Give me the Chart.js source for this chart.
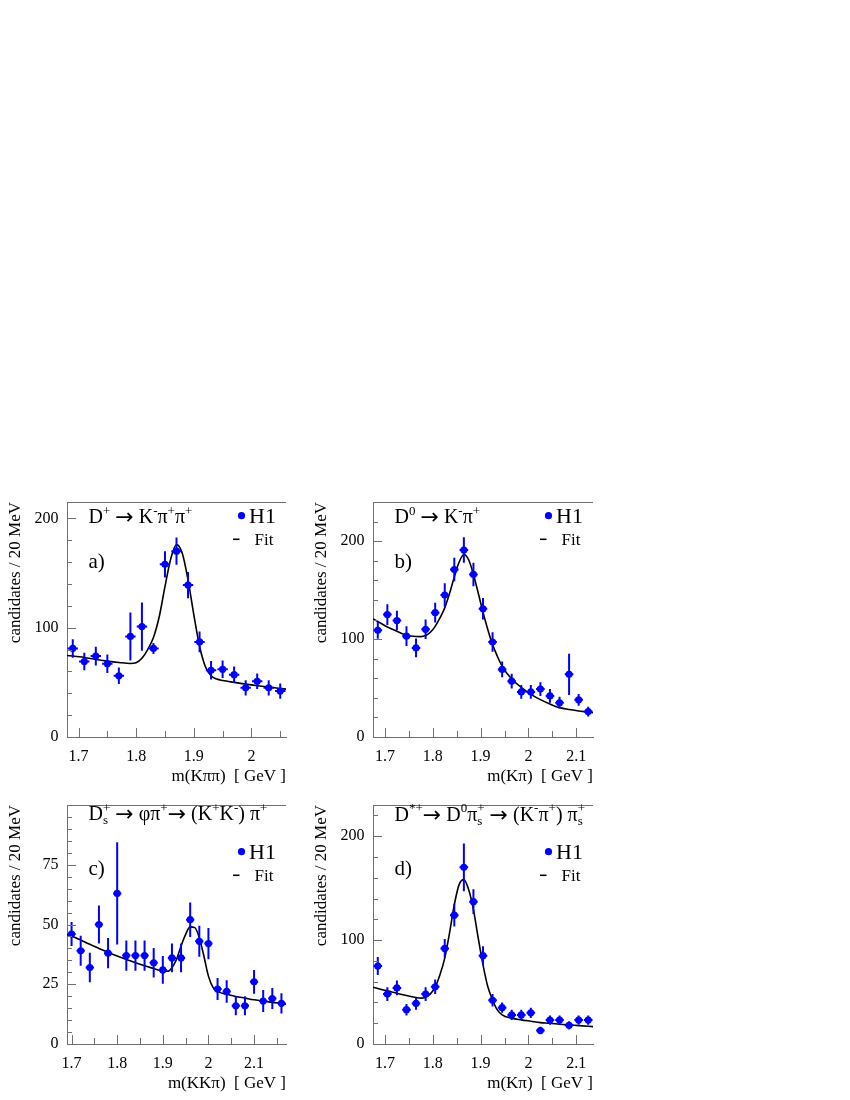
<!DOCTYPE html>
<html>
<head>
<meta charset="utf-8">
<script src="https://cdn.jsdelivr.net/npm/chart.js@4.4.1/dist/chart.umd.min.js"></script>
<style>
  body { margin: 0; background: #fff; }
  #page { position: relative; width: 850px; height: 1100px; }
  canvas { position: absolute; }
</style>
</head>
<body>
<div id="page">
  <canvas id="pa" width="300" height="300" style="left:0;top:490px"></canvas>
  <canvas id="pb" width="300" height="300" style="left:300px;top:490px"></canvas>
  <canvas id="pc" width="300" height="310" style="left:0;top:790px"></canvas>
  <canvas id="pd" width="300" height="310" style="left:300px;top:790px"></canvas>
</div>
<script>
// a) D+ -> K- pi+ pi+
const aMass = [1.69, 1.71, 1.73, 1.75, 1.77, 1.79, 1.81, 1.83, 1.85, 1.87, 1.89, 1.91, 1.93, 1.95, 1.97, 1.99, 2.01, 2.03, 2.05];
const aCount = [81, 69, 74, 67, 56, 92, 101, 81, 158, 170, 139, 87, 61, 62, 57, 45, 51, 45, 42];
const aErr = [8.5, 8, 8.5, 8.5, 7.5, 22, 22, 5, 12, 12.5, 12, 9.5, 8.5, 8, 7.5, 7, 7, 7, 7];
const aFitMass = [1.68, 1.71, 1.73, 1.75, 1.77, 1.79, 1.80, 1.81, 1.82, 1.83, 1.84, 1.85, 1.86, 1.87, 1.88, 1.89, 1.90, 1.91, 1.92, 1.93, 1.94, 1.95, 1.97, 1.99, 2.01, 2.03, 2.05, 2.06];
const aFit = [74.6, 72.8, 70.9, 69.4, 68.2, 67.3, 68, 72, 80, 91, 110, 137.6, 163, 176, 168, 143.7, 112, 83, 64.5, 56, 53, 51.7, 50, 48.4, 46.9, 45.7, 44.4, 43.8];

// b) D0 -> K- pi+
const bMass = [1.685, 1.705, 1.725, 1.745, 1.765, 1.785, 1.805, 1.825, 1.845, 1.865, 1.885, 1.905, 1.925, 1.945, 1.965, 1.985, 2.005, 2.025, 2.045, 2.065, 2.085, 2.105, 2.125];
const bCount = [109, 125, 119, 103, 91, 110, 127, 145, 171, 191, 166, 131, 97, 69, 57, 46, 46, 49, 42, 35, 64, 38, 26];
const bErr = [8.7, 10.7, 10, 10, 9.5, 10, 10, 12, 12, 13, 12, 11, 10, 8, 7.5, 7, 7, 7, 7, 6, 21, 6, 5];
const bFitMass = [1.675, 1.685, 1.705, 1.725, 1.745, 1.765, 1.775, 1.785, 1.795, 1.805, 1.815, 1.825, 1.835, 1.845, 1.855, 1.865, 1.875, 1.885, 1.895, 1.905, 1.915, 1.925, 1.935, 1.945, 1.965, 1.985, 2.005, 2.025, 2.045, 2.065, 2.085, 2.105, 2.125, 2.135];
const bFit = [120.6, 118, 112.4, 108, 104, 102.6, 102.5, 103.6, 107, 113, 121.6, 131.9, 146.5, 163.5, 178.5, 186.4, 181, 166, 147, 127.4, 109.7, 94.4, 82.5, 72.2, 59.3, 50.8, 43.6, 38.2, 33.7, 30, 28, 26.6, 25.5, 24.9];

// c) Ds+ -> phi pi+ -> (K+K-) pi+
const cMass = [1.70, 1.72, 1.74, 1.76, 1.78, 1.80, 1.82, 1.84, 1.86, 1.88, 1.90, 1.92, 1.94, 1.96, 1.98, 2.00, 2.02, 2.04, 2.06, 2.08, 2.10, 2.12, 2.14, 2.16];
const cCount = [46, 39, 32, 50, 38, 63, 37, 37, 37, 34, 31, 36, 36, 52, 43, 42, 23, 22, 16, 16, 26, 18, 19, 17];
const cErr = [5, 6.3, 6.2, 8, 6.3, 21.4, 6.3, 6.3, 6.3, 6.2, 5.8, 6, 6, 7.2, 6.5, 6.5, 4.6, 4.7, 4, 4, 5, 4.6, 4.4, 4.2];
const cFitMass = [1.69, 1.70, 1.72, 1.74, 1.76, 1.78, 1.80, 1.82, 1.84, 1.86, 1.88, 1.90, 1.912, 1.92, 1.93, 1.94, 1.95, 1.96, 1.97, 1.98, 1.99, 2.00, 2.01, 2.02, 2.04, 2.06, 2.08, 2.10, 2.12, 2.14, 2.16, 2.17];
const cFit = [45.8, 45.2, 43.5, 41.7, 40, 38.3, 36.8, 35.4, 34, 32.7, 31.6, 30.5, 30.5, 31.9, 35.4, 41, 45.9, 49, 48.7, 44.5, 36.8, 28.4, 23.7, 22, 20.8, 19.9, 19.2, 18.5, 18, 17.4, 17, 16.7];

// d) D*+ -> D0 pi_s+ -> (K- pi+) pi_s+
const dMass = [1.685, 1.705, 1.725, 1.745, 1.765, 1.785, 1.805, 1.825, 1.845, 1.865, 1.885, 1.905, 1.925, 1.945, 1.965, 1.985, 2.005, 2.025, 2.045, 2.065, 2.085, 2.105, 2.125];
const dCount = [75, 48, 54, 33, 39, 48, 55, 92, 124, 170, 137, 85, 42, 35, 28, 28, 30, 13, 23, 23, 18, 23, 23];
const dErr = [8.7, 6.5, 7, 5.5, 6, 6.5, 7, 9, 11, 23, 12, 9, 6, 5, 5, 5, 5, 3.5, 4.5, 4.5, 4, 4.5, 4.5];
const dFitMass = [1.675, 1.705, 1.725, 1.745, 1.765, 1.775, 1.785, 1.795, 1.805, 1.815, 1.825, 1.835, 1.845, 1.855, 1.865, 1.875, 1.885, 1.895, 1.905, 1.915, 1.925, 1.935, 1.945, 1.965, 1.985, 2.005, 2.025, 2.045, 2.065, 2.085, 2.105, 2.135];
const dFit = [54.7, 51.1, 48.9, 46.6, 44.7, 44.1, 45, 48.2, 54.7, 66.6, 82.6, 106.8, 134, 153.4, 158.2, 148.6, 129.3, 102, 76.2, 55.3, 42.4, 32.8, 28, 24.8, 23.2, 21.9, 20.6, 20, 19, 18.3, 17.7, 16.7];

const serif = '"Liberation Serif", "Times New Roman", serif';
const arrowFont = '"DejaVu Sans", sans-serif';
const blue = '#0000ff';
const axisGrey = '#707070';

// titels: [tekst, soort]  soort: '' gewoon, '^' boven, '_^' onder+boven, '>' pijl
const panels = [
  { id: 'pa', mass: aMass, count: aCount, err: aErr, fitMass: aFitMass, fit: aFit,
    xMin: 1.68, xMax: 2.06, yMax: 215, yMajor: 100, yMinor: 20, letter: 'a)',
    xTitle: 'm(K\u03c0\u03c0)  [ GeV ]',
    title: [['D', ''], ['+', '^'], [' ', ''], ['\u2192', '>'], [' K', ''], ['-', '^'], ['\u03c0', ''], ['+', '^'], ['\u03c0', ''], ['+', '^']],
    area: { left: 67, top: 12, right: 286, bottom: 247 }, h: 300, yTitlePad: 5,
    titleY: 21, legendY: 21.3, letterY: 66 },
  { id: 'pb', mass: bMass, count: bCount, err: bErr, fitMass: bFitMass, fit: bFit,
    xMin: 1.675, xMax: 2.135, yMax: 240, yMajor: 100, yMinor: 20, letter: 'b)',
    xTitle: 'm(K\u03c0)  [ GeV ]',
    title: [['D', ''], ['0', '^'], [' ', ''], ['\u2192', '>'], [' K', ''], ['-', '^'], ['\u03c0', ''], ['+', '^']],
    area: { left: 73, top: 12, right: 293, bottom: 247 }, h: 300, yTitlePad: 11,
    titleY: 21, legendY: 21.3, letterY: 66 },
  { id: 'pc', mass: cMass, count: cCount, err: cErr, fitMass: cFitMass, fit: cFit,
    xMin: 1.69, xMax: 2.17, yMax: 100, yMajor: 25, yMinor: 5, letter: 'c)',
    xTitle: 'm(KK\u03c0)  [ GeV ]',
    title: [['D', ''], ['s', '_^', '+'], [' ', ''], ['\u2192', '>'], [' \u03c6\u03c0', ''], ['+', '^'], ['\u2192', '>'], [' (K', ''], ['+', '^'], ['K', ''], ['-', '^'], [') \u03c0', ''], ['+', '^']],
    area: { left: 67, top: 15, right: 286, bottom: 254 }, h: 310, yTitlePad: 5,
    titleY: 15, legendY: 54.3, letterY: 70 },
  { id: 'pd', mass: dMass, count: dCount, err: dErr, fitMass: dFitMass, fit: dFit,
    xMin: 1.675, xMax: 2.135, yMax: 230, yMajor: 100, yMinor: 20, letter: 'd)',
    xTitle: 'm(K\u03c0)  [ GeV ]',
    title: [['D', ''], ['*+', '^'], ['\u2192', '>'], [' D', ''], ['0', '^'], ['\u03c0', ''], ['s', '_^', '+'], [' ', ''], ['\u2192', '>'], [' (K', ''], ['-', '^'], ['\u03c0', ''], ['+', '^'], [') \u03c0', ''], ['s', '_^', '+']],
    area: { left: 73, top: 15, right: 293, bottom: 254 }, h: 310, yTitlePad: 11,
    titleY: 15.7, legendY: 54.3, letterY: 70 }
];

function drawRich(ctx, parts, x, y, size) {
  const small = Math.round(size * 0.65);
  ctx.textBaseline = 'alphabetic';
  ctx.textAlign = 'left';
  for (const p of parts) {
    if (p[1] === '^') {
      ctx.font = small + 'px ' + serif;
      ctx.fillText(p[0], x, y - size * 0.42);
      x += ctx.measureText(p[0]).width;
    } else if (p[1] === '_^') {
      ctx.font = small + 'px ' + serif;
      ctx.fillText(p[0], x, y + size * 0.2);
      ctx.fillText(p[2], x, y - size * 0.42);
      x += Math.max(ctx.measureText(p[0]).width, ctx.measureText(p[2]).width);
    } else if (p[1] === '>') {
      ctx.font = Math.round(size * 1.1) + 'px ' + arrowFont;
      ctx.fillText(p[0], x, y + size * 0.04);
      x += ctx.measureText(p[0]).width;
    } else {
      ctx.font = size + 'px ' + serif;
      ctx.fillText(p[0], x, y);
      x += ctx.measureText(p[0]).width;
    }
  }
}

function tickValues(min, max, step) {
  const out = [];
  for (let i = Math.ceil(min / step - 1e-6); i <= Math.floor(max / step + 1e-6); i++) out.push(i * step);
  return out;
}

function rootPlugin(p) {
  return {
    id: 'rootStyle',
    beforeDatasetDraw(chart, args) {
      if (args.index !== 1) return;
      const ctx = chart.ctx, xs = chart.scales.x, ys = chart.scales.y;
      ctx.save();
      ctx.strokeStyle = blue;
      ctx.lineWidth = 2;
      p.mass.forEach((m, i) => {
        const px = xs.getPixelForValue(m), py = ys.getPixelForValue(p.count[i]);
        ctx.beginPath();
        ctx.moveTo(px, ys.getPixelForValue(p.count[i] + p.err[i]));
        ctx.lineTo(px, ys.getPixelForValue(p.count[i] - p.err[i]));
        ctx.moveTo(xs.getPixelForValue(m - 0.009), py);
        ctx.lineTo(xs.getPixelForValue(m + 0.009), py);
        ctx.stroke();
      });
      ctx.restore();
    },
    afterDraw(chart) {
      const ctx = chart.ctx, xs = chart.scales.x, ys = chart.scales.y;
      const a = chart.chartArea;
      ctx.save();
      ctx.strokeStyle = axisGrey;
      ctx.lineWidth = 1;
      // bovenrand
      ctx.beginPath();
      ctx.moveTo(a.left, a.top + 0.5);
      ctx.lineTo(a.right, a.top + 0.5);
      ctx.stroke();
      // tickjes binnen het frame
      ctx.beginPath();
      tickValues(0, p.yMax, p.yMinor).forEach(v => {
        const y = Math.round(ys.getPixelForValue(v)) + 0.5;
        const len = Math.abs(v / p.yMajor - Math.round(v / p.yMajor)) < 1e-6 ? 9 : 5;
        ctx.moveTo(a.left, y);
        ctx.lineTo(a.left + len, y);
      });
      tickValues(p.xMin, p.xMax, 0.05).forEach(v => {
        const x = Math.round(xs.getPixelForValue(v)) + 0.5;
        const len = Math.abs(v * 10 - Math.round(v * 10)) < 1e-6 ? 9 : 6;
        ctx.moveTo(x, a.bottom);
        ctx.lineTo(x, a.bottom - len);
      });
      ctx.stroke();

      ctx.fillStyle = '#000';
      drawRich(ctx, p.title, a.left + 21.5, a.top + p.titleY, 20);

      ctx.font = '21px ' + serif;
      ctx.fillText(p.letter, a.left + 21.5, a.top + p.letterY);

      // legenda
      ctx.fillStyle = blue;
      ctx.beginPath();
      ctx.arc(a.right - 44.5, a.top + p.legendY - 7.6, 3.6, 0, Math.PI * 2);
      ctx.fill();
      ctx.fillStyle = '#000';
      ctx.font = '22px ' + serif;
      ctx.fillText('H1', a.right - 37, a.top + p.legendY);
      ctx.strokeStyle = '#000';
      ctx.lineWidth = 1.6;
      ctx.beginPath();
      ctx.moveTo(a.right - 53, a.top + p.legendY + 16);
      ctx.lineTo(a.right - 46.5, a.top + p.legendY + 16);
      ctx.stroke();
      ctx.font = '17px ' + serif;
      ctx.fillText('Fit', a.right - 31.5, a.top + p.legendY + 21.7);
      ctx.restore();
    }
  };
}

panels.forEach(p => {
  const ar = p.area;
  new Chart(document.getElementById(p.id), {
    type: 'scatter',
    data: {
      datasets: [
        {
          data: p.fitMass.map((m, i) => ({ x: m, y: p.fit[i] })),
          showLine: true,
          borderColor: '#000',
          borderWidth: 1.6,
          pointRadius: 0,
          cubicInterpolationMode: 'monotone',
          order: 1
        },
        {
          data: p.mass.map((m, i) => ({ x: m, y: p.count[i] })),
          backgroundColor: blue,
          borderWidth: 0,
          pointRadius: 3.6,
          order: 0
        }
      ]
    },
    options: {
      responsive: false,
      animation: false,
      devicePixelRatio: 1,
      layout: { padding: { left: 0, top: ar.top, right: 300 - ar.right, bottom: 0 } },
      plugins: { legend: { display: false }, tooltip: { enabled: false } },
      scales: {
        x: {
          type: 'linear',
          min: p.xMin,
          max: p.xMax,
          grid: { display: false, drawTicks: false },
          border: { display: true, color: axisGrey, width: 1 },
          ticks: {
            stepSize: 0.1,
            includeBounds: false,
            autoSkip: false,
            maxRotation: 0,
            padding: 10,
            color: '#000',
            font: { family: serif, size: 16 },
            callback: v => String(+v.toFixed(2))
          },
          title: {
            display: true,
            text: p.xTitle,
            align: 'end',
            color: '#000',
            font: { family: serif, size: 17 },
            padding: { top: 0, bottom: p.h === 300 ? 3 : 6 }
          },
          afterFit: s => { s.height = p.h - ar.bottom; s.paddingLeft = 0; s.paddingRight = 0; }
        },
        y: {
          min: 0,
          max: p.yMax,
          grid: { display: false, drawTicks: false },
          border: { display: true, color: axisGrey, width: 1 },
          ticks: {
            stepSize: p.yMajor,
            includeBounds: false,
            padding: 8.5,
            color: '#000',
            font: { family: serif, size: 16 },
            callback: v => String(v)
          },
          // bovenste waarde valt samen met de rand, geen label (zoals in het origineel)
          afterBuildTicks: s => { s.ticks = s.ticks.filter(t => t.value < p.yMax); },
          title: {
            display: true,
            text: 'candidates / 20 MeV',
            align: 'end',
            color: '#000',
            font: { family: serif, size: 17 },
            padding: { top: p.yTitlePad, bottom: 0 }
          },
          afterFit: s => { s.width = ar.left; s.paddingTop = 0; s.paddingBottom = 0; }
        }
      }
    },
    plugins: [rootPlugin(p)]
  });
});
</script>
</body>
</html>
